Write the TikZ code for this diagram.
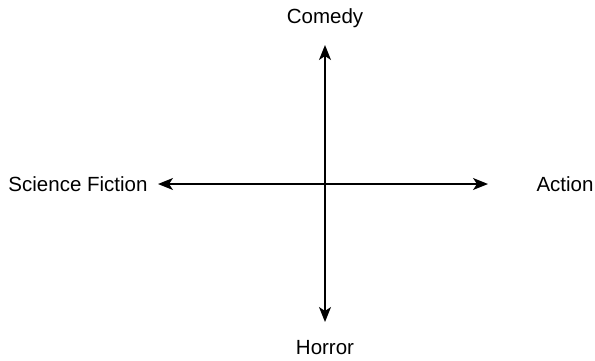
\documentclass[tikz,border=0pt]{standalone}
\usepackage{fontspec}
\setmainfont{Liberation Sans}
\usetikzlibrary{arrows.meta,positioning}
\tikzset{
  axlabel/.style={font=\fontsize{20.5}{24}\selectfont,inner sep=0pt},
  axedge/.style={{Stealth[length=15pt,width=12pt,inset=4pt]}-{Stealth[length=15pt,width=12pt,inset=4pt]},line width=1.5pt,black},
}

\begin{document}
\begin{tikzpicture}[x=1pt,y=-1pt]
    \useasboundingbox (0,0) rectangle (595,360);
    % axis ends
    \coordinate (top) at (325,45);
    \coordinate (bottom) at (325,322);
    \coordinate (left) at (158,184);
    \coordinate (right) at (488,184);
    % labels
    \node[axlabel] (comedy) at (325,18) {Comedy};
    \node[axlabel] (horror) at (325,348) {Horror};
    \node[axlabel] (scifi) at (78,184) {Science Fiction};
    \node[axlabel] (action) at (565,184) {Action};
    % axes
    \draw[axedge] (top) -- (bottom);
    \draw[axedge] (left) -- (right);
\end{tikzpicture}
\end{document}
